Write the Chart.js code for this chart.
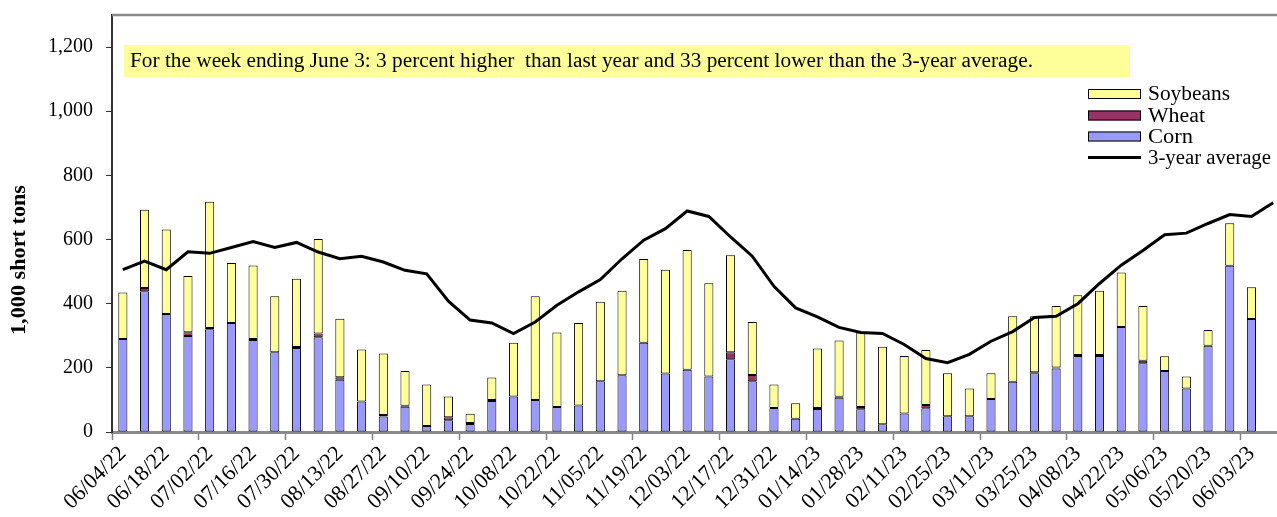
<!DOCTYPE html>
<html>
<head>
<meta charset="utf-8">
<title>Weekly grain shipments</title>
<script src="https://cdn.jsdelivr.net/npm/chart.js@4.4.1/dist/chart.umd.min.js"></script>
<style>
  html, body { margin: 0; padding: 0; background: #ffffff; overflow: hidden; }
  #wrap { width: 1300px; height: 517px; }
</style>
</head>
<body>
<div id="wrap"><canvas id="chart" width="1300" height="517"></canvas></div>
<script>
// Week-ending dates (the last week carries only the 3-year average)
const weeks = [
  '06/04/22','06/11/22','06/18/22','06/25/22','07/02/22','07/09/22','07/16/22','07/23/22',
  '07/30/22','08/06/22','08/13/22','08/20/22','08/27/22','09/03/22','09/10/22','09/17/22',
  '09/24/22','10/01/22','10/08/22','10/15/22','10/22/22','10/29/22','11/05/22','11/12/22',
  '11/19/22','11/26/22','12/03/22','12/10/22','12/17/22','12/24/22','12/31/22','01/07/23',
  '01/14/23','01/21/23','01/28/23','02/04/23','02/11/23','02/18/23','02/25/23','03/04/23',
  '03/11/23','03/18/23','03/25/23','04/01/23','04/08/23','04/15/23','04/22/23','04/29/23',
  '05/06/23','05/13/23','05/20/23','05/27/23','06/03/23','06/10/23'
];

// 1,000 short tons
const corn = [
  290,439,368,299,320,340,287,249,262,295,163,95,
  48,79,19,37,25,97,111,100,78,83,158,177,278,
  182,194,173,227,158,75,41,72,107,71,24,58,
  74,49,49,103,157,183,198,237,237,327,214,190,136,269,518,352,null
];
const wheat = [
  0,10,0,12,4,0,3,0,3,12,8,0,
  5,3,0,9,3,3,0,0,0,0,0,0,0,
  0,0,0,22,20,0,0,3,3,7,0,0,
  10,0,0,0,0,3,3,3,3,0,8,0,0,0,0,0,null
];
const soybeans = [
  145,244,263,175,394,187,229,174,213,295,182,162,
  192,108,129,65,29,70,167,323,232,257,248,263,261,
  324,373,291,302,165,73,49,185,175,232,242,179,
  172,134,87,80,204,175,192,186,200,170,171,46,37,49,133,99,null
];
const threeYearAvg = [
  506,533,506,562,557,575,594,575,591,561,540,548,
  530,504,493,408,349,340,307,343,395,437,475,540,598,
  634,689,672,608,548,454,387,359,326,310,307,273,
  229,216,242,283,313,357,361,400,463,520,566,615,620,650,678,672,715
];

const yTicks = [0, 200, 400, 600, 800, 1000, 1200];
const yMax = 1300;

const headline = 'For the week ending June 3: 3 percent higher  than last year and 33 percent lower than the 3-year average.';
const yTitle = '1,000 short tons';

const SERIF = '"Liberation Serif", "Times New Roman", Times, serif';
const COLORS = { corn: '#9999FF', wheat: '#993366', soybeans: '#FFFF99', avg: '#000000' };

Chart.defaults.font.family = SERIF;
Chart.defaults.color = '#000000';

// Draws text stretched horizontally to a given width
function wideText(ctx, text, x, y, width) {
  const w = ctx.measureText(text).width;
  ctx.save();
  ctx.translate(x, y);
  ctx.scale(width / w, 1);
  ctx.fillText(text, 0, 0);
  ctx.restore();
}

// Frame line, headline box, y-axis title and the in-plot legend
const decorations = {
  id: 'decorations',
  beforeDatasetsDraw(chart) {
    const { ctx, chartArea: a } = chart;
    ctx.save();
    // top frame line
    ctx.strokeStyle = '#8a8a8a';
    ctx.lineWidth = 2.5;
    ctx.beginPath();
    ctx.moveTo(a.left, a.top);
    ctx.lineTo(a.right, a.top);
    ctx.stroke();
    // headline box
    ctx.fillStyle = '#FFFF99';
    ctx.fillRect(a.left + 12, a.top + 30, 1006, 32);
    ctx.fillStyle = '#000';
    ctx.font = '20px ' + SERIF;
    ctx.textBaseline = 'middle';
    ctx.textAlign = 'left';
    wideText(ctx, headline, a.left + 18, a.top + 47, 903);
    // y-axis title
    ctx.translate(20, 260);
    ctx.rotate(-Math.PI / 2);
    ctx.font = 'bold 20px ' + SERIF;
    ctx.textAlign = 'left';
    wideText(ctx, yTitle, -75, 0, 150);
    ctx.restore();
  },
  afterDatasetsDraw(chart) {
    const { ctx } = chart;
    const ds = chart.data.datasets;
    const rows = [ds[2], ds[1], ds[0], ds[3]];
    const widths = [82, 57, 45, 123];
    const x0 = 1088, sw = 53, tx = 1148;
    const ys = [94, 115.5, 136.5, 157.5];
    ctx.save();
    ctx.font = '20px ' + SERIF;
    ctx.textBaseline = 'middle';
    ctx.textAlign = 'left';
    rows.forEach((d, i) => {
      const y = ys[i];
      if (d.type === 'line') {
        ctx.strokeStyle = d.borderColor;
        ctx.lineWidth = 3;
        ctx.beginPath();
        ctx.moveTo(x0, y);
        ctx.lineTo(x0 + sw, y);
        ctx.stroke();
      } else {
        ctx.fillStyle = d.backgroundColor;
        ctx.fillRect(x0, y - 5, sw, 10);
        ctx.strokeStyle = '#000';
        ctx.lineWidth = 1;
        ctx.strokeRect(x0 + 0.5, y - 4.5, sw - 1, 9);
      }
      ctx.fillStyle = '#000';
      wideText(ctx, d.label, tx, y + 1, widths[i]);
    });
    ctx.restore();
  }
};

const barCommon = {
  type: 'bar',
  borderColor: '#000000',
  borderWidth: 1,
  borderSkipped: false,
  barPercentage: 0.42,
  categoryPercentage: 1.0,
  stack: 'grain',
  order: 1
};

new Chart(document.getElementById('chart'), {
  data: {
    labels: weeks,
    datasets: [
      Object.assign({}, barCommon, { label: 'Corn', data: corn, backgroundColor: COLORS.corn }),
      Object.assign({}, barCommon, { label: 'Wheat', data: wheat, backgroundColor: COLORS.wheat }),
      Object.assign({}, barCommon, { label: 'Soybeans', data: soybeans, backgroundColor: COLORS.soybeans }),
      {
        type: 'line',
        label: '3-year average',
        data: threeYearAvg,
        borderColor: COLORS.avg,
        backgroundColor: COLORS.avg,
        borderWidth: 3,
        pointRadius: 0,
        tension: 0,
        fill: false,
        stack: 'average',
        order: 0
      }
    ]
  },
  options: {
    responsive: false,
    devicePixelRatio: 1,
    animation: false,
    layout: { padding: { top: 15, right: 16, left: 0, bottom: 0 } },
    plugins: { legend: { display: false }, tooltip: { enabled: false } },
    scales: {
      x: {
        stacked: true,
        offset: true,
        grid: {
          offset: true,
          drawOnChartArea: false,
          drawTicks: true,
          tickLength: 8,
          tickWidth: 1.5,
          tickColor: (c) => (c.index % 4 === 0 ? '#808080' : 'rgba(0,0,0,0)')
        },
        border: { color: '#8a8a8a', width: 3 },
        ticks: {
          autoSkip: false,
          maxRotation: 45,
          minRotation: 45,
          padding: 1,
          font: { size: 22, family: SERIF },
          color: '#000',
          callback: (v, i) => (i % 2 === 0 ? weeks[i] : '')
        },
        afterFit: (s) => { s.height = 85; }
      },
      y: {
        stacked: true,
        min: 0,
        max: yMax,
        grid: {
          drawOnChartArea: false,
          drawTicks: true,
          tickLength: 6,
          tickColor: '#333'
        },
        border: { color: '#333', width: 2 },
        ticks: {
          stepSize: 200,
          padding: 13,
          font: { size: 20, family: SERIF },
          color: '#000',
          callback: (v) => v.toLocaleString('en-US')
        },
        afterBuildTicks: (s) => { s.ticks = yTicks.map((v) => ({ value: v })); },
        afterFit: (s) => { s.width = 112; s.paddingTop = 0; s.paddingBottom = 0; }
      }
    }
  },
  plugins: [decorations]
});
</script>
</body>
</html>
